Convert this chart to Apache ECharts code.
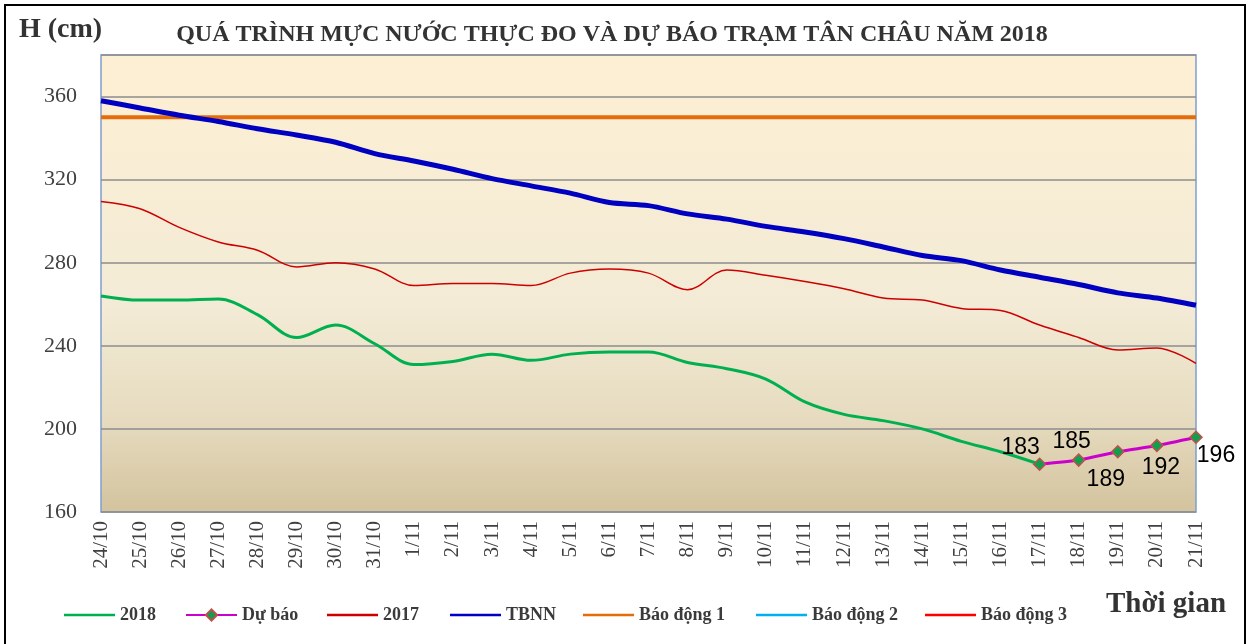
<!DOCTYPE html>
<html>
<head>
<meta charset="utf-8">
<script src="https://cdn.jsdelivr.net/npm/echarts@6/dist/echarts.min.js"></script>
<style>
html,body{margin:0;padding:0;background:#fff;}
#c{width:1253px;height:644px;}
</style>
</head>
<body>
<div id="c"></div>
<script>
const categories = ['24/10','25/10','26/10','27/10','28/10','29/10','30/10','31/10','1/11','2/11','3/11','4/11','5/11','6/11','7/11','8/11','9/11','10/11','11/11','12/11','13/11','14/11','15/11','16/11','17/11','18/11','19/11','20/11','21/11'];
const h2018 = [264,262,262,262.5,255,244,250,241,231,232.5,236,233,236,237,237,232,229,224,213,207,204,200,194,189,183,null,null,null,null];
const duBao = [null,null,null,null,null,null,null,null,null,null,null,null,null,null,null,null,null,null,null,null,null,null,null,null,183,185,189,192,196];
const h2017 = [309.5,306,297,290,286,278,280,277,269,270,270,269,275,277,275,267,276.5,274,271,267.5,263,262,258,257,250,244,238,239,231.5];
const tbnn = [358,354.5,351,348,344.5,341.5,338,332.5,329,325,320.5,317,313.5,309,307.5,303.5,301,297.5,294.8,291.6,287.6,283.5,281,276.5,273,269.5,265.5,263,259.5];
const baoDong1 = 350, baoDong2 = 400, baoDong3 = 450;
const yTicks = {min:160, max:380, interval:40};

const fill = v => categories.map(() => v);
const serif = '"Liberation Serif","Times New Roman",serif';
// label offsets (px) of forecast values relative to their markers
const labelOffsets = [[-19,-17],[-7,-18],[-12,28],[4,22],[20,18]];

const chart = echarts.init(document.getElementById('c'));
const legendItem = (name, left, lineOnly) => ({
  data: [lineOnly ? {name, icon: 'rect'} : name], left, top: 601,
  itemWidth: 51, itemHeight: lineOnly ? 2.5 : 14, itemGap: 5,
  textStyle: {fontFamily: serif, fontWeight: 'bold', fontSize: 18, color: '#3a3a3a'}
});

let k = 0;
const dbData = duBao.map(v => {
  if (v === null) return null;
  const o = labelOffsets[k++];
  return {value: v, label: {offset: o}};
});

chart.setOption({
  animation: false,
  backgroundColor: '#fff',
  title: {
    text: 'QUÁ TRÌNH MỰC NƯỚC THỰC ĐO VÀ DỰ BÁO TRẠM TÂN CHÂU NĂM 2018',
    left: 607, top: 18, textAlign: 'center',
    textStyle: {fontFamily: serif, fontWeight: 'bold', fontSize: 24, color: '#333'}
  },
  legend: [
    legendItem('2018', 59, true),
    legendItem('Dự báo', 180, false),
    legendItem('2017', 322, true),
    legendItem('TBNN', 445, true),
    legendItem('Báo động 1', 578, true),
    legendItem('Báo động 2', 751, true),
    legendItem('Báo động 3', 920, true)
  ],
  graphic: [
    {type:'rect', shape:{x:5,y:5,width:1240,height:650}, style:{fill:'none', stroke:'#000', lineWidth:2}, silent:true},
    {type:'text', left:19, top:16, style:{text:'H (cm)', font:'bold 28px "Liberation Serif", serif', fill:'#333'}},
    {type:'text', left:1106, top:590, style:{text:'Thời gian', font:'bold 29px "Liberation Serif", serif', fill:'#333'}}
  ],
  grid: {
    left: 101, right: 57, top: 55, bottom: 132,
    show: true, borderColor: '#7F9FCF', borderWidth: 1.5,
    backgroundColor: new echarts.graphic.LinearGradient(0,0,0,1,[
      {offset:0, color:'#FDEFD3'},
      {offset:0.55, color:'#F3EBD6'},
      {offset:0.8, color:'#E6DBBF'},
      {offset:1, color:'#D3C39E'}
    ])
  },
  xAxis: {
    type: 'category', data: categories, boundaryGap: false,
    axisLine: {show: false}, axisTick: {show: false},
    axisLabel: {rotate: 90, margin: 9, fontFamily: serif, fontSize: 21, color: '#404040', interval: 0}
  },
  yAxis: {
    type: 'value', min: yTicks.min, max: yTicks.max, interval: yTicks.interval,
    axisLine: {show: false}, axisTick: {show: false},
    axisLabel: {margin: 24, fontFamily: serif, fontSize: 22, color: '#404040', showMaxLabel: false},
    splitLine: {lineStyle: {color: '#8C8C8C', width: 1.5}}
  },
  series: [
    {name:'2018', type:'line', data:h2018, smooth:0.35, symbol:'none', z:4,
     lineStyle:{color:'#00B050', width:3}, itemStyle:{color:'#00B050'}},
    {name:'Dự báo', type:'line', data:dbData, smooth:0.2, symbol:'diamond', symbolSize:12, z:6,
     lineStyle:{color:'#CC00CC', width:3},
     itemStyle:{color:'#0F9F4F', borderColor:'#C0504D', borderWidth:1.5},
     label:{show:true, position:'inside', align:'center', verticalAlign:'middle',
            fontFamily:'"Liberation Sans", Arial, sans-serif', fontSize:23, color:'#000'}},
    {name:'2017', type:'line', data:h2017, smooth:0.35, symbol:'none', z:3,
     lineStyle:{color:'#CC0000', width:1.5}, itemStyle:{color:'#CC0000'}},
    {name:'TBNN', type:'line', data:tbnn, smooth:0.3, symbol:'none', z:5,
     lineStyle:{color:'#0000C0', width:5}, itemStyle:{color:'#0000C0'}},
    {name:'Báo động 1', type:'line', data:fill(baoDong1), symbol:'none', z:2,
     lineStyle:{color:'#E46C0A', width:4}, itemStyle:{color:'#E46C0A'}},
    {name:'Báo động 2', type:'line', data:fill(baoDong2), symbol:'none', z:2,
     lineStyle:{color:'#00B0F0', width:2}, itemStyle:{color:'#00B0F0'}},
    {name:'Báo động 3', type:'line', data:fill(baoDong3), symbol:'none', z:2,
     lineStyle:{color:'#FF0000', width:2}, itemStyle:{color:'#FF0000'}}
  ]
});
</script>
</body>
</html>
